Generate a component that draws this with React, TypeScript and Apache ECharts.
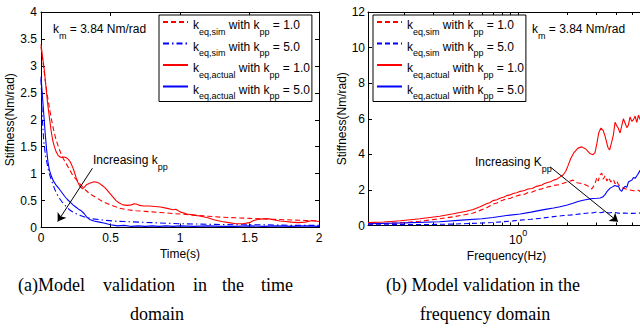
import React, { useEffect, useRef } from 'react';
import * as echarts from 'echarts';

// ---------- (a) time domain ----------
const tRedSim = [0, 0.02, 0.036, 0.05, 0.072, 0.09, 0.108, 0.125, 0.144, 0.16, 0.18, 0.2, 0.228, 0.25, 0.276, 0.3, 0.348, 0.4, 0.444, 0.5, 0.564, 0.62, 0.683, 0.75, 0.8, 0.9, 1.0, 1.1, 1.2, 1.3, 1.4, 1.5, 1.6, 1.7, 1.8, 1.9, 2.0];
const kRedSim = [3.35, 2.95, 2.62, 2.38, 2.05, 1.82, 1.63, 1.5, 1.37, 1.28, 1.19, 1.1, 0.97, 0.9, 0.82, 0.75, 0.63, 0.55, 0.48, 0.42, 0.36, 0.33, 0.31, 0.3, 0.29, 0.27, 0.25, 0.23, 0.21, 0.19, 0.18, 0.17, 0.16, 0.15, 0.14, 0.13, 0.12];

const tBlueSim = [0, 0.005, 0.01, 0.02, 0.03, 0.04, 0.05, 0.06, 0.075, 0.09, 0.108, 0.13, 0.156, 0.18, 0.204, 0.24, 0.276, 0.32, 0.37, 0.44, 0.52, 0.6, 0.7, 0.8, 0.9, 1.0, 1.2, 1.4, 1.6, 1.8, 2.0];
const kBlueSim = [2.75, 2.35, 2.0, 1.6, 1.38, 1.24, 1.1, 1.0, 0.88, 0.77, 0.65, 0.55, 0.46, 0.39, 0.33, 0.27, 0.23, 0.19, 0.16, 0.14, 0.12, 0.11, 0.1, 0.09, 0.08, 0.07, 0.06, 0.05, 0.05, 0.04, 0.04];

const tRedAct = [0, 0.012, 0.024, 0.036, 0.048, 0.06, 0.072, 0.084, 0.096, 0.11, 0.125, 0.145, 0.165, 0.18, 0.195, 0.21, 0.228, 0.24, 0.252, 0.265, 0.28, 0.3, 0.315, 0.33, 0.35, 0.37, 0.385, 0.4, 0.42, 0.44, 0.46, 0.48, 0.5, 0.52, 0.54, 0.56, 0.59, 0.62, 0.65, 0.67, 0.69, 0.71, 0.74, 0.78, 0.82, 0.86, 0.9, 0.95, 0.97, 1.0, 1.05, 1.1, 1.15, 1.2, 1.25, 1.3, 1.35, 1.4, 1.45, 1.5, 1.53, 1.56, 1.6, 1.64, 1.68, 1.72, 1.76, 1.8, 1.85, 1.9, 1.95, 2.0];
const kRedAct = [3.4, 3.15, 2.92, 2.6, 2.3, 2.05, 1.81, 1.62, 1.5, 1.4, 1.33, 1.3, 1.31, 1.3, 1.27, 1.22, 1.12, 1.03, 0.93, 0.84, 0.76, 0.72, 0.76, 0.8, 0.82, 0.84, 0.85, 0.84, 0.82, 0.78, 0.74, 0.68, 0.62, 0.56, 0.5, 0.46, 0.42, 0.41, 0.42, 0.44, 0.43, 0.41, 0.4, 0.4, 0.39, 0.38, 0.36, 0.33, 0.34, 0.29, 0.25, 0.23, 0.21, 0.18, 0.14, 0.11, 0.09, 0.07, 0.07, 0.09, 0.13, 0.15, 0.16, 0.16, 0.14, 0.12, 0.11, 0.1, 0.09, 0.1, 0.13, 0.11];

const tBlueAct = [0, 0.01, 0.02, 0.03, 0.04, 0.05, 0.06, 0.075, 0.09, 0.11, 0.13, 0.15, 0.17, 0.19, 0.21, 0.23, 0.25, 0.27, 0.29, 0.31, 0.33, 0.35, 0.38, 0.42, 0.46, 0.5, 0.55, 0.6, 0.65, 0.7, 0.75, 0.8, 0.85, 0.9, 0.95, 1.0, 1.1, 1.2, 1.3, 1.4, 1.5, 1.6, 1.7, 1.8, 1.9, 2.0];
const kBlueAct = [2.8, 2.45, 2.1, 1.75, 1.45, 1.22, 1.07, 0.95, 0.86, 0.78, 0.72, 0.65, 0.58, 0.52, 0.47, 0.42, 0.38, 0.34, 0.31, 0.26, 0.19, 0.15, 0.12, 0.1, 0.08, 0.05, 0.03, 0.04, 0.02, 0.03, 0.02, 0.03, 0.02, 0.03, 0.02, 0.03, 0.02, 0.03, 0.02, 0.02, 0.03, 0.02, 0.03, 0.02, 0.03, 0.02];

const arrowA = [[0.37, 1.1], [0.12, 0.11]];

// ---------- (b) frequency domain (Hz) ----------
const fRedSim = [0.12, 0.19, 0.25, 0.33, 0.4, 0.48, 0.53, 0.585, 0.64, 0.7, 0.74, 0.78, 0.85, 0.9, 0.93, 1.03, 1.1, 1.15, 1.22, 1.3, 1.4, 1.5, 1.58, 1.65, 1.8, 2.0, 2.17, 2.3, 2.5, 2.7, 2.83, 2.95, 3.04, 3.1, 3.18, 3.26, 3.32, 3.42, 3.5, 3.6, 3.7, 3.84, 3.93, 4.03, 4.12, 4.22, 4.4, 4.6, 4.86, 5.1, 5.47, 5.6, 6.0];
const kRedSimF = [0.08, 0.15, 0.24, 0.38, 0.49, 0.62, 0.7, 0.85, 1.0, 1.2, 1.26, 1.38, 1.5, 1.53, 1.6, 1.72, 1.76, 1.85, 1.88, 2.0, 2.06, 2.15, 2.2, 2.25, 2.3, 2.45, 2.55, 2.4, 2.35, 2.2, 2.05, 2.3, 2.7, 2.5, 2.85, 2.95, 2.6, 2.8, 2.5, 2.7, 2.45, 2.6, 2.35, 2.5, 2.3, 2.2, 2.1, 2.05, 2.0, 1.95, 1.98, 1.9, 1.9];

const fBlueSim = [0.12, 0.2, 0.3, 0.4, 0.5, 0.6, 0.7, 0.8, 0.93, 1.03, 1.2, 1.36, 1.65, 1.9, 2.17, 2.5, 2.7, 2.9, 3.04, 3.2, 3.4, 3.6, 3.8, 4.0, 4.2, 4.5, 5.0, 5.5, 6.0];
const kBlueSimF = [0.04, 0.05, 0.06, 0.08, 0.11, 0.14, 0.17, 0.21, 0.26, 0.3, 0.35, 0.4, 0.5, 0.56, 0.6, 0.67, 0.7, 0.72, 0.76, 0.72, 0.77, 0.7, 0.74, 0.72, 0.68, 0.7, 0.68, 0.7, 0.68];

const fRedAct = [0.12, 0.15, 0.19, 0.25, 0.33, 0.4, 0.48, 0.53, 0.585, 0.64, 0.67, 0.7, 0.74, 0.78, 0.82, 0.85, 0.89, 0.93, 0.98, 1.03, 1.07, 1.1, 1.15, 1.22, 1.26, 1.3, 1.35, 1.4, 1.45, 1.5, 1.58, 1.65, 1.72, 1.8, 1.89, 1.96, 2.02, 2.1, 2.2, 2.33, 2.46, 2.6, 2.75, 2.88, 2.96, 3.04, 3.12, 3.22, 3.32, 3.42, 3.55, 3.64, 3.75, 3.84, 3.93, 4.03, 4.12, 4.22, 4.32, 4.42, 4.53, 4.64, 4.75, 4.86, 4.98, 5.1, 5.22, 5.34, 5.47, 5.6, 5.8, 6.0];
const kRedActF = [0.16, 0.2, 0.27, 0.38, 0.52, 0.66, 0.8, 0.9, 1.06, 1.22, 1.28, 1.4, 1.45, 1.55, 1.6, 1.68, 1.72, 1.8, 1.84, 1.92, 1.95, 1.98, 2.05, 2.08, 2.15, 2.2, 2.24, 2.28, 2.36, 2.4, 2.46, 2.55, 2.6, 2.72, 2.85, 3.05, 3.35, 3.75, 4.1, 4.35, 4.42, 4.3, 4.05, 3.98, 4.1, 4.6, 5.2, 5.48, 5.35, 5.0, 4.4, 4.25, 4.7, 5.1, 5.8, 5.6, 5.45, 5.2, 5.6, 6.0, 5.75, 5.5, 5.65, 6.1, 5.85, 5.95, 6.15, 5.8, 6.2, 5.95, 6.1, 6.0];

const fBlueAct = [0.12, 0.2, 0.33, 0.45, 0.6, 0.7, 0.85, 1.03, 1.2, 1.36, 1.5, 1.65, 1.81, 2.0, 2.17, 2.33, 2.5, 2.7, 2.88, 3.04, 3.18, 3.3, 3.42, 3.5, 3.67, 3.84, 3.93, 4.03, 4.12, 4.22, 4.32, 4.42, 4.53, 4.64, 4.75, 4.86, 4.98, 5.1, 5.22, 5.4, 5.6, 6.0];
const kBlueActF = [0.1, 0.15, 0.21, 0.3, 0.38, 0.45, 0.56, 0.65, 0.75, 0.85, 0.92, 0.98, 1.05, 1.15, 1.25, 1.35, 1.42, 1.48, 1.52, 1.53, 1.55, 1.6, 1.75, 1.9, 2.1, 2.2, 2.25, 2.2, 2.22, 2.0, 1.92, 2.1, 2.2, 2.15, 2.45, 2.5, 2.55, 2.7, 2.65, 2.85, 3.1, 3.3];

const arrowB = [[1.57, 3.3], [4.1, 0.21]];

const minorFreqTicks = [0.2, 0.3, 0.4, 0.5, 0.6, 0.7, 0.8, 0.9, 1, 2, 3, 4, 5, 6];
const freqLabels = [1];
const fMin = 0.12;
const fMax = 6;

const FONT = 'Liberation Sans';
const RED = '#ff0000';
const BLUE = '#0000ff';
const CAP = '18px "Liberation Serif"';

const richStyles = {
  n: { fontSize: 12, fontFamily: FONT, color: '#000', lineHeight: 14, padding: [4, 0, 4, 0], verticalAlign: 'top' },
  s: { fontSize: 9, fontFamily: FONT, color: '#000', lineHeight: 10, padding: [12, 0, 0, 0], verticalAlign: 'top' },
};

const legendText: Record<string, string> = {
  aSim1: '{n|k}{s|eq,sim}{n| with k}{s|pp}{n| = 1.0}',
  aSim5: '{n|k}{s|eq,sim}{n| with k}{s|pp}{n| = 5.0}',
  aAct1: '{n|k}{s|eq,actual}{n| with k}{s|pp}{n| = 1.0}',
  aAct5: '{n|k}{s|eq,actual}{n| with k}{s|pp}{n| = 5.0}',
  bSim1: '{n|k}{s|eq,sim}{n| with k}{s|pp}{n| = 1.0}',
  bSim5: '{n|k}{s|eq,sim}{n| with k}{s|pp}{n| = 5.0}',
  bAct1: '{n|k}{s|eq,actual}{n| with k}{s|pp}{n| = 1.0}',
  bAct5: '{n|k}{s|eq,actual}{n| with k}{s|pp}{n| = 5.0}',
};

const zip = (xs: number[], ys: number[]) => xs.map((x, i) => [x, ys[i]]);
const zipLog = (xs: number[], ys: number[]) => xs.map((x, i) => [Math.log10(x), ys[i]]);

export default function App() {
  const ref = useRef<HTMLDivElement>(null);
  useEffect(() => {
    if (!ref.current) return;
    const chart = echarts.init(ref.current, null, { renderer: 'svg' });
    const axisLine = { show: true, onZero: false, lineStyle: { color: '#000', width: 1 } };
    const labelStyle = { color: '#000', fontSize: 12, fontFamily: FONT };
    const nameStyle = { color: '#000', fontSize: 12, fontFamily: FONT };
    const tick = (len: number) => ({ show: true, inside: true, length: len, lineStyle: { color: '#000' } });

    const lineSeries = (name: string, data: number[][], color: string, type: any, xi: number, yi: number) => ({
      name,
      type: 'line',
      xAxisIndex: xi,
      yAxisIndex: yi,
      data,
      symbol: 'none',
      showSymbol: false,
      smooth: false,
      lineStyle: { color, width: 1.1, type },
      itemStyle: { color },
      z: 3,
    });

    const legendBase = {
      orient: 'vertical',
      top: 15,
      padding: [0, 2, 1, 3],
      itemGap: 0.5,
      itemWidth: 25,
      itemHeight: 14,
      borderColor: '#000',
      borderWidth: 1,
      backgroundColor: '#fff',
      selectedMode: false,
      itemStyle: { opacity: 0, borderWidth: 0 },
      formatter: (name: string) => legendText[name],
      textStyle: { color: '#000', fontSize: 12, fontFamily: FONT, rich: richStyles },
      z: 10,
    };

    const logTicks = minorFreqTicks.map((v) => Math.log10(v));

    const option: any = {
      animation: false,
      backgroundColor: '#fff',
      grid: [
        { left: 41, top: 12, width: 278, height: 215.5, outerBoundsMode: 'none' },
        { left: 368, top: 12, width: 277, height: 213.5, outerBoundsMode: 'none' },
      ],
      xAxis: [
        {
          type: 'value', gridIndex: 0, position: 'bottom', min: 0, max: 2, interval: 0.5,
          axisLine, axisTick: tick(4),
          axisLabel: { ...labelStyle, margin: 4, formatter: (v: number) => String(v) },
          splitLine: { show: false },
          name: 'Time(s)', nameLocation: 'middle', nameGap: 16, nameTextStyle: nameStyle,
        },
        {
          type: 'value', gridIndex: 0, position: 'top', min: 0, max: 2, interval: 0.5,
          axisLine, axisTick: tick(4), axisLabel: { show: false }, splitLine: { show: false },
        },
        {
          type: 'value', gridIndex: 1, position: 'bottom', min: Math.log10(fMin), max: Math.log10(fMax),
          axisLine,
          axisTick: { ...tick(3), customValues: logTicks },
          axisLabel: {
            ...labelStyle, margin: 3,
            customValues: freqLabels.map((v) => Math.log10(v)),
            formatter: (v: number) => '{b|10}{p|' + Math.round(v) + '}',
            rich: {
              b: { fontSize: 12, fontFamily: FONT, color: '#000', lineHeight: 13, padding: [5, 0, 0, 0], verticalAlign: 'top' },
              p: { fontSize: 9, fontFamily: FONT, color: '#000', lineHeight: 10, verticalAlign: 'top' },
            },
          },
          splitLine: { show: false },
          name: 'Frequency(Hz)', nameLocation: 'middle', nameGap: 17, nameTextStyle: nameStyle,
        },
        {
          type: 'value', gridIndex: 1, position: 'top', min: Math.log10(fMin), max: Math.log10(fMax),
          axisLine, axisTick: { ...tick(3), customValues: logTicks },
          axisLabel: { show: false }, splitLine: { show: false },
        },
      ],
      yAxis: [
        {
          type: 'value', gridIndex: 0, position: 'left', min: 0, max: 4, interval: 0.5,
          axisLine, axisTick: tick(4),
          axisLabel: { ...labelStyle, margin: 4, formatter: (v: number) => String(v) },
          splitLine: { show: false },
          name: 'Stiffness(Nm/rad)', nameLocation: 'middle', nameGap: 24, nameTextStyle: nameStyle,
        },
        {
          type: 'value', gridIndex: 0, position: 'right', min: 0, max: 4, interval: 0.5,
          axisLine, axisTick: tick(4), axisLabel: { show: false }, splitLine: { show: false },
        },
        {
          type: 'value', gridIndex: 1, position: 'left', min: 0, max: 12, interval: 2,
          axisLine, axisTick: tick(4),
          axisLabel: { ...labelStyle, margin: 3 },
          splitLine: { show: false },
          name: 'Stiffness(Nm/rad)', nameLocation: 'middle', nameGap: 20, nameTextStyle: nameStyle,
        },
        {
          type: 'value', gridIndex: 1, position: 'right', min: 0, max: 12, interval: 2,
          axisLine, axisTick: tick(4), axisLabel: { show: false }, splitLine: { show: false },
        },
      ],
      legend: [
        { ...legendBase, left: 159, data: ['aSim1', 'aSim5', 'aAct1', 'aAct5'] },
        { ...legendBase, left: 373, data: ['bSim1', 'bSim5', 'bAct1', 'bAct5'] },
      ],
      series: [
        lineSeries('aSim1', zip(tRedSim, kRedSim), RED, [5, 3], 0, 0),
        lineSeries('aSim5', zip(tBlueSim, kBlueSim), BLUE, [6, 3, 1.5, 3], 0, 0),
        lineSeries('aAct1', zip(tRedAct, kRedAct), RED, 'solid', 0, 0),
        lineSeries('aAct5', zip(tBlueAct, kBlueAct), BLUE, 'solid', 0, 0),
        lineSeries('bSim1', zipLog(fRedSim, kRedSimF), RED, [5, 3], 2, 2),
        lineSeries('bSim5', zipLog(fBlueSim, kBlueSimF), BLUE, [5, 3], 2, 2),
        lineSeries('bAct1', zipLog(fRedAct, kRedActF), RED, 'solid', 2, 2),
        lineSeries('bAct5', zipLog(fBlueAct, kBlueActF), BLUE, 'solid', 2, 2),
        {
          type: 'lines', coordinateSystem: 'cartesian2d', xAxisIndex: 0, yAxisIndex: 0,
          symbol: ['none', 'arrow'], symbolSize: 8,
          lineStyle: { color: '#000', width: 1, opacity: 1 },
          data: [{ coords: arrowA }], z: 5, silent: true,
        },
        {
          type: 'lines', coordinateSystem: 'cartesian2d', xAxisIndex: 2, yAxisIndex: 2,
          symbol: ['none', 'arrow'], symbolSize: 8,
          lineStyle: { color: '#000', width: 1, opacity: 1 },
          data: [{ coords: arrowB.map((p) => [Math.log10(p[0]), p[1]]) }], z: 5, silent: true,
        },
      ],
      graphic: [
        { type: 'text', x: 53, y: 26, z: 20, style: { text: '{n|k}{s|m}{n| = 3.84 Nm/rad}', rich: richStyles, verticalAlign: 'middle', align: 'left' } },
        { type: 'text', x: 532, y: 26, z: 20, style: { text: '{n|k}{s|m}{n| = 3.84 Nm/rad}', rich: richStyles, verticalAlign: 'middle', align: 'left' } },
        { type: 'text', x: 93, y: 157, z: 20, style: { text: '{n|Increasing k}{s|pp}', rich: richStyles, verticalAlign: 'middle', align: 'left' } },
        { type: 'text', x: 475, y: 159, z: 20, style: { text: '{n|Increasing K}{s|pp}', rich: richStyles, verticalAlign: 'middle', align: 'left' } },
        { type: 'text', x: 18, y: 285, style: { text: '(a)Model', font: CAP, fill: '#000', verticalAlign: 'middle' } },
        { type: 'text', x: 103, y: 285, style: { text: 'validation', font: CAP, fill: '#000', verticalAlign: 'middle' } },
        { type: 'text', x: 193, y: 285, style: { text: 'in', font: CAP, fill: '#000', verticalAlign: 'middle' } },
        { type: 'text', x: 222, y: 285, style: { text: 'the', font: CAP, fill: '#000', verticalAlign: 'middle' } },
        { type: 'text', x: 293, y: 285, style: { text: 'time', font: CAP, fill: '#000', verticalAlign: 'middle', align: 'right' } },
        { type: 'text', x: 157, y: 314, style: { text: 'domain', font: CAP, fill: '#000', verticalAlign: 'middle', align: 'center' } },
        { type: 'text', x: 483, y: 285, style: { text: '(b) Model validation in the', font: CAP, fill: '#000', verticalAlign: 'middle', align: 'center' } },
        { type: 'text', x: 485, y: 314, style: { text: 'frequency domain', font: CAP, fill: '#000', verticalAlign: 'middle', align: 'center' } },
      ],
    };
    chart.setOption(option);
    return () => chart.dispose();
  }, []);
  return (
    <div style={{ position: 'fixed', left: 0, top: 0, width: 640, height: 331, overflow: 'hidden', background: '#fff' }}>
      <div ref={ref} style={{ width: 640, height: 331 }} />
    </div>
  );
}
